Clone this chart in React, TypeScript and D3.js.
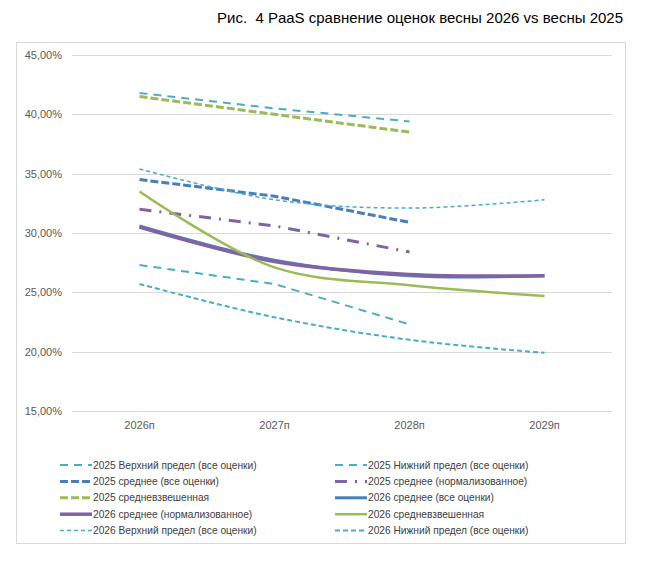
import React, { useRef, useEffect } from "react";
import * as d3 from "d3";

// categories on the x axis
const years = ["2026п", "2027п", "2028п", "2029п"];
const yTicks = [15, 20, 25, 30, 35, 40, 45];

const titleText = "Рис.  4 PaaS сравнение оценок весны 2026 vs весны 2025";

// series values, %, one entry per year (null = no value)
const upper2025 = [41.8, 40.5, 39.4, null];
const lower2025 = [27.3, 25.7, 22.3, null];
const avg2025 = [34.5, 33.1, 30.9, null];
const norm2025 = [32.0, 30.6, 28.4, null];
const weighted2025 = [41.5, 40.0, 38.5, null];
const avg2026 = [30.6, 27.7, 26.4, 26.4];
const norm2026 = [30.5, 27.6, 26.5, 26.4];
const weighted2026 = [33.5, 27.1, 25.6, 24.7];
const upper2026 = [35.4, 32.8, 32.1, 32.8];
const lower2026 = [25.7, 22.9, 21.0, 19.9];

interface Series {
  name: string;
  values: (number | null)[];
  color: string;
  width: number;
  dash: string | null;
  smooth: boolean;
}

const series: Series[] = [
  { name: "2025 Верхний предел (все оценки)", values: upper2025, color: "#4bacc6", width: 2, dash: "8,6", smooth: false },
  { name: "2025 Нижний предел (все оценки)", values: lower2025, color: "#4bacc6", width: 2, dash: "8,6", smooth: false },
  { name: "2025 среднее (все оценки)", values: avg2025, color: "#4a7ebb", width: 3, dash: "8,3", smooth: false },
  { name: "2025 среднее (нормализованное)", values: norm2025, color: "#8064a2", width: 3, dash: "12,8,2,8", smooth: false },
  { name: "2025 средневзвешенная", values: weighted2025, color: "#9bbb59", width: 3, dash: "8,3", smooth: false },
  { name: "2026 среднее (все оценки)", values: avg2026, color: "#4a7ebb", width: 3, dash: null, smooth: true },
  { name: "2026 среднее (нормализованное)", values: norm2026, color: "#8064a2", width: 3.5, dash: null, smooth: true },
  { name: "2026 средневзвешенная", values: weighted2026, color: "#9bbb59", width: 2.5, dash: null, smooth: true },
  { name: "2026 Верхний предел (все оценки)", values: upper2026, color: "#4bacc6", width: 1.5, dash: "4,3", smooth: true },
  { name: "2026 Нижний предел (все оценки)", values: lower2026, color: "#4bacc6", width: 2, dash: "5,3", smooth: true },
];

const App: React.FC = () => {
  const svgRef = useRef<SVGSVGElement>(null);

  useEffect(() => {
    const width = 646;
    const height = 579;
    const font = "'Liberation Sans', Arial, sans-serif";

    const svg = d3.select(svgRef.current);
    svg.selectAll("*").remove();
    svg.attr("width", width).attr("height", height);

    // title (keep the double space)
    svg.append("text")
      .attr("x", 623)
      .attr("y", 23)
      .attr("text-anchor", "end")
      .attr("font-family", font)
      .attr("font-size", 15)
      .attr("fill", "#000")
      .style("white-space", "pre")
      .text(titleText);

    // chart frame
    svg.append("rect")
      .attr("x", 16.5)
      .attr("y", 42.5)
      .attr("width", 609)
      .attr("height", 501)
      .attr("fill", "#fff")
      .attr("stroke", "#d9d9d9");

    const x = d3.scaleBand().domain(years).range([72, 612]);
    const y = d3.scaleLinear().domain([15, 45]).range([411, 55]);
    const cx = (c: string) => (x(c) ?? 0) + x.bandwidth() / 2;

    // gridlines + y labels
    const grid = svg.append("g");
    grid.selectAll("line")
      .data(yTicks)
      .enter()
      .append("line")
      .attr("x1", 72)
      .attr("x2", 612)
      .attr("y1", d => Math.round(y(d)) + 0.5)
      .attr("y2", d => Math.round(y(d)) + 0.5)
      .attr("stroke", "#d9d9d9");

    const fmt = (v: number) => d3.format(".2f")(v).replace(".", ",") + "%";
    grid.selectAll("text")
      .data(yTicks)
      .enter()
      .append("text")
      .attr("x", 62)
      .attr("y", d => y(d))
      .attr("dy", "0.35em")
      .attr("text-anchor", "end")
      .attr("font-family", font)
      .attr("font-size", 11)
      .attr("fill", "#595959")
      .text(d => fmt(d));

    // x labels
    svg.append("g")
      .selectAll("text")
      .data(years)
      .enter()
      .append("text")
      .attr("x", d => cx(d))
      .attr("y", 429)
      .attr("text-anchor", "middle")
      .attr("font-family", font)
      .attr("font-size", 11)
      .attr("fill", "#595959")
      .text(d => d);

    // lines
    const plot = svg.append("g");
    series.forEach(s => {
      const pts = s.values
        .map((v, i) => ({ c: years[i], v }))
        .filter(p => p.v !== null) as { c: string; v: number }[];
      const line = d3.line<{ c: string; v: number }>()
        .x(p => cx(p.c))
        .y(p => y(p.v))
        .curve(s.smooth ? d3.curveCatmullRom.alpha(0.5) : d3.curveLinear);
      plot.append("path")
        .attr("d", line(pts))
        .attr("fill", "none")
        .attr("stroke", s.color)
        .attr("stroke-width", s.width)
        .attr("stroke-dasharray", s.dash)
        .attr("stroke-linejoin", "round");
    });

    // legend (two columns, row-major)
    const legend = svg.append("g");
    series.forEach((s, i) => {
      const col = i % 2;
      const row = Math.floor(i / 2);
      const lx = col === 0 ? 60 : 335;
      const ly = 465 + row * 16.4;
      legend.append("line")
        .attr("x1", lx)
        .attr("x2", lx + 32)
        .attr("y1", ly)
        .attr("y2", ly)
        .attr("stroke", s.color)
        .attr("stroke-width", s.width)
        .attr("stroke-dasharray", s.dash);
      legend.append("text")
        .attr("x", lx + 33)
        .attr("y", ly)
        .attr("dy", "0.35em")
        .attr("font-family", font)
        .attr("font-size", 10.2)
        .attr("fill", "#404040")
        .text(s.name);
    });
  }, []);

  return (
    <svg
      ref={svgRef}
      style={{ position: "absolute", left: 0, top: 0, display: "block", background: "#fff" }}
    />
  );
};

export default App;
